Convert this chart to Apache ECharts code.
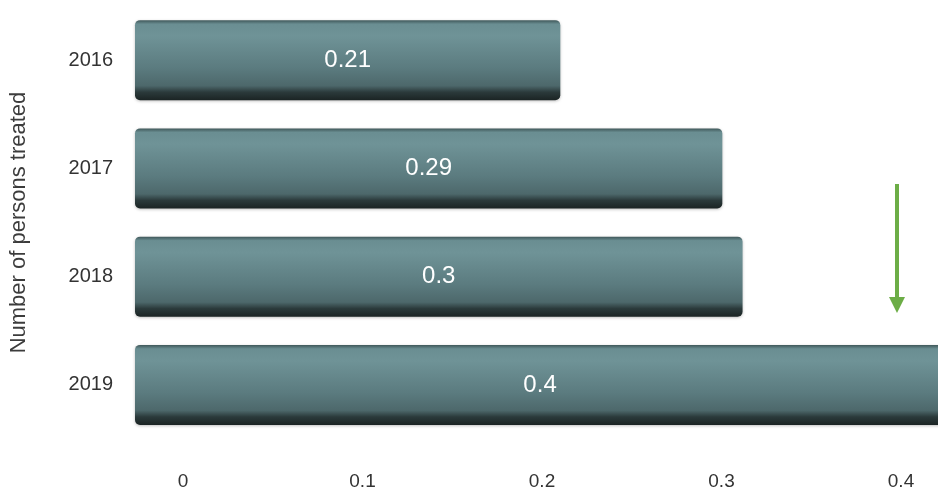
<!DOCTYPE html>
<html>
<head>
<meta charset="utf-8">
<script src="https://cdn.jsdelivr.net/npm/echarts@6/dist/echarts.min.js"></script>
<style>
html,body{margin:0;padding:0;background:#fff;}
#chart{width:938px;height:491px;}
</style>
</head>
<body>
<div id="chart"></div>
<script>
var categories = ['2016', '2017', '2018', '2019'];
var values = [0.21, 0.29, 0.3, 0.4];
var tickValues = [0, 0.1, 0.2, 0.3, 0.4];
var axisTitle = 'Number of persons treated';

var FONT = '"Liberation Sans", Arial, Helvetica, sans-serif';
var chart = echarts.init(document.getElementById('chart'), null, {renderer: 'canvas'});

var barGradient = new echarts.graphic.LinearGradient(0, 0, 0, 1, [
  {offset: 0, color: '#3e5658'},
  {offset: 0.05, color: '#6a8e92'},
  {offset: 0.2, color: '#6f9397'},
  {offset: 0.6, color: '#5b7b7f'},
  {offset: 0.82, color: '#4d686b'},
  {offset: 0.9, color: '#2b3a3b'},
  {offset: 1, color: '#1b2424'}
]);

var option = {
  backgroundColor: '#ffffff',
  animation: false,
  grid: [
    {left: 135, right: 0, top: 6, bottom: 52},
    {left: 183, right: 37, top: 440, bottom: 31}
  ],
  xAxis: [
    {type: 'value', gridIndex: 0, min: 0, max: 0.3965, show: false, splitLine: {show: false}},
    {type: 'value', gridIndex: 1, min: 0, max: tickValues[tickValues.length - 1], interval: 0.1,
     axisLine: {show: false}, axisTick: {show: false}, splitLine: {show: false},
     axisLabel: {show: true, margin: 15, color: '#333', fontSize: 19, fontFamily: FONT,
       formatter: function (v) { return String(Math.round(v * 10) / 10); }}}
  ],
  yAxis: [
    {type: 'category', gridIndex: 0, data: categories, inverse: true,
     axisLine: {show: false}, axisTick: {show: false}, splitLine: {show: false},
     axisLabel: {margin: 22, color: '#333', fontSize: 20, fontFamily: FONT},
     name: axisTitle, nameLocation: 'middle', nameRotate: 90, nameGap: 105,
     nameTextStyle: {color: '#3c3c3c', fontSize: 22, fontFamily: FONT}},
    {type: 'value', gridIndex: 1, show: false}
  ],
  series: [{
    type: 'bar',
    xAxisIndex: 0,
    yAxisIndex: 0,
    data: values,
    barWidth: 80,
    clip: false,
    itemStyle: {color: barGradient, borderRadius: 5, shadowColor: 'rgba(0,0,0,0.25)', shadowBlur: 3, shadowOffsetY: 1},
    label: {show: true, position: 'inside', color: '#ffffff', fontSize: 24, fontFamily: FONT,
      formatter: function (p) { return String(p.value); }}
  }],
  graphic: [
    {type: 'line', shape: {x1: 897, y1: 184, x2: 897, y2: 300}, style: {stroke: '#6cad46', lineWidth: 4}},
    {type: 'polygon', shape: {points: [[889, 297], [905, 297], [897, 313]]}, style: {fill: '#6cad46'}}
  ]
};
chart.setOption(option);
</script>
</body>
</html>
